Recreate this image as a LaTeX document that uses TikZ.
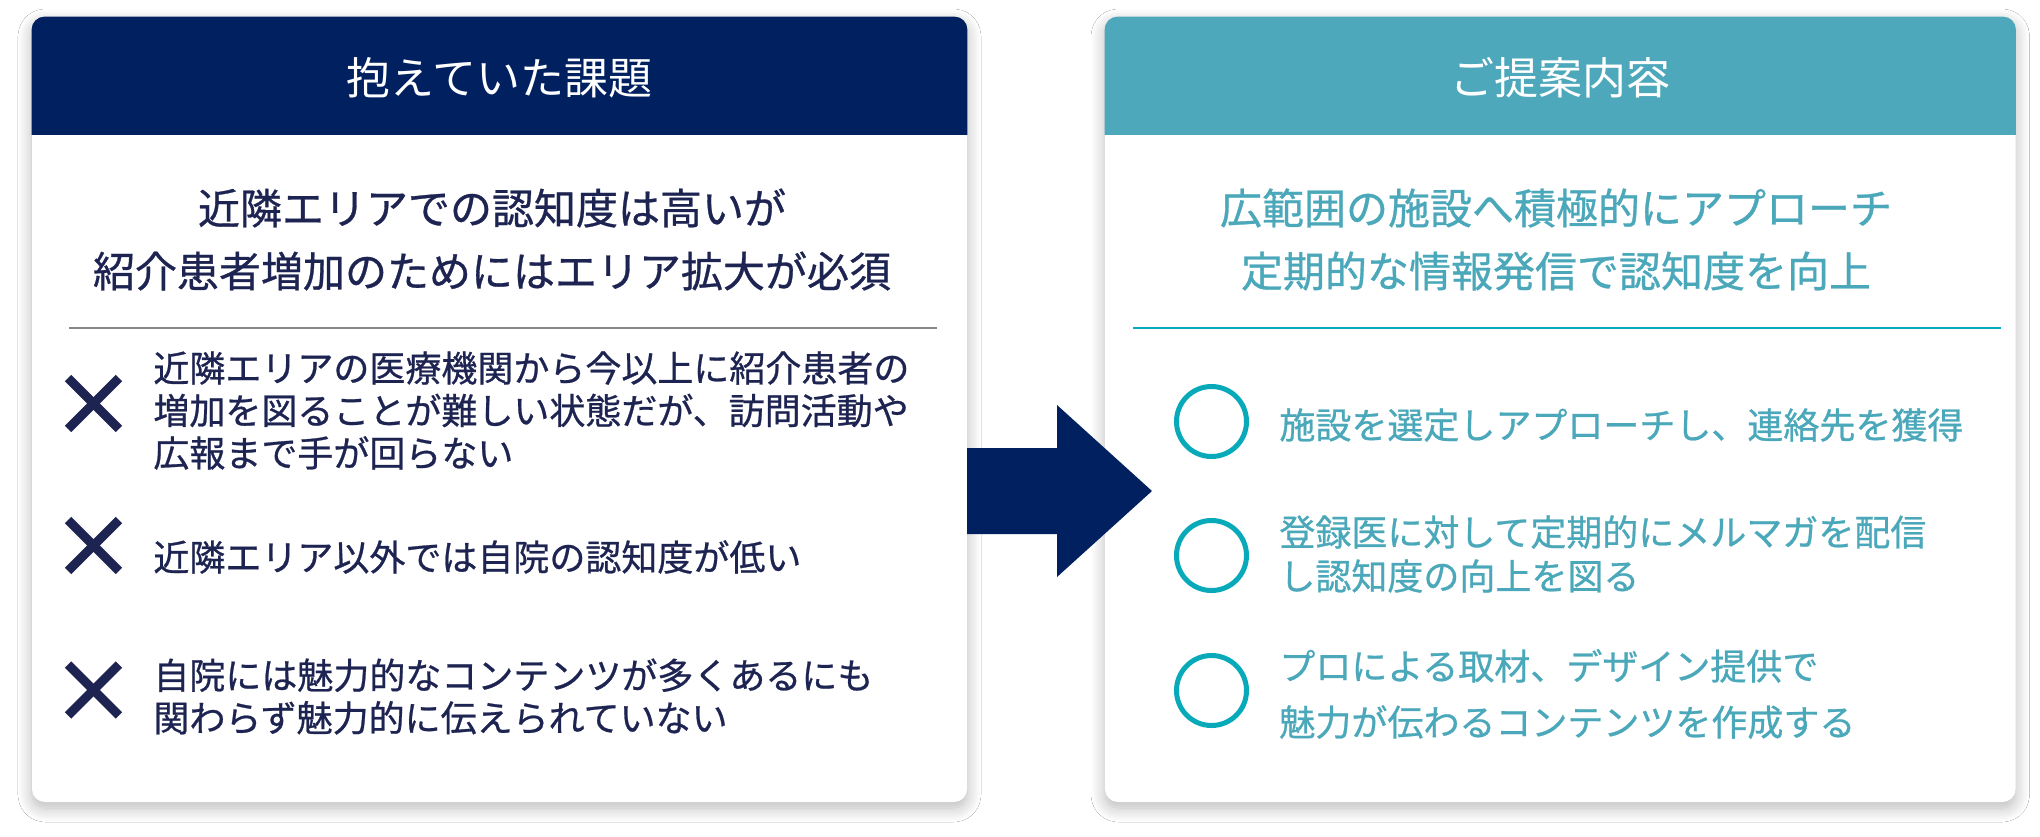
\documentclass[tikz,border=0pt]{standalone}
\usepackage{fontspec}
\newfontfamily\jp{Noto Sans CJK JP}
\newfontfamily\jpm[FakeBold=0.7]{Noto Sans CJK JP}
\usetikzlibrary{shadows.blur}
\definecolor{navyc}{RGB}{0,32,96}
\definecolor{tealhead}{RGB}{77,168,187}
\definecolor{tealtext}{RGB}{74,168,186}
\definecolor{tealbright}{RGB}{8,170,186}
\definecolor{darktext}{RGB}{30,36,82}
\definecolor{sepgray}{RGB}{136,136,136}
\begin{document}
\begin{tikzpicture}[x=0.5pt,y=-0.5pt,
  card/.style={rectangle, fill=white, rounded corners=6.5pt, inner sep=0pt,
    minimum height=392.5pt,
    blur shadow={shadow xshift=0pt, shadow yshift=-3pt, shadow blur radius=7pt, shadow opacity=28, shadow blur steps=12}},
  htitle/.style={font=\jp\fontsize{22pt}{26pt}\selectfont, text=white, inner sep=0pt},
  headline/.style={font=\jpm\fontsize{21pt}{31.5pt}\selectfont, align=center, inner sep=0pt},
  ltext/.style={font=\jpm\fontsize{18pt}{21.25pt}\selectfont, text=darktext, align=left, anchor=west, inner sep=0pt},
  rtext/.style={font=\jpm\fontsize{18pt}{22pt}\selectfont, text=tealtext, align=left, anchor=west, inner sep=0pt},
  xmark/.style={rectangle, minimum size=25pt, inner sep=0pt},
  xline/.style={draw=darktext, line width=4.5pt, line cap=butt},
  ring/.style={circle, draw=tealbright, line width=2.5pt, minimum size=35pt, inner sep=0pt},
]
\fill[white] (0,0) rectangle (2040,836);
\useasboundingbox (0,0) rectangle (2040,836);

% cards
\node[card, minimum width=467.5pt] (lcard) at (499.5,409.5) {};
\node[card, minimum width=455.25pt] (rcard) at (1560.25,409.5) {};

% headers
\coordinate (lhb) at (32,134);
\coordinate (rhb) at (1105,134);
\begin{scope}
  \clip (lcard.north west) rectangle (lhb -| lcard.east);
  \fill[navyc, rounded corners=6.5pt] (lcard.north west) rectangle (lcard.south east);
\end{scope}
\begin{scope}
  \clip (rcard.north west) rectangle (rhb -| rcard.east);
  \fill[tealhead, rounded corners=6.5pt] (rcard.north west) rectangle (rcard.south east);
\end{scope}

% arrow
\coordinate (arrL) at (967,491);
\fill[navyc] (arrL) ++(0,-43) -- ++(90,0) -- ++(0,-43) -- (1152,491) -- (1057,577) -- ++(0,-43) -- ++(-90,0) -- cycle;

% titles
\node[htitle] (ltitle) at (499.5,78) {抱えていた課題};
\node[htitle] (rtitle) at (1560,78) {ご提案内容};

% headlines
\node[headline, text=darktext] (lhl) at (492,239.5) {近隣エリアでの認知度は高いが\\紹介患者増加のためにはエリア拡大が必須};
\node[headline, text=tealtext] (rhl) at (1556,239.5) {広範囲の施設へ積極的にアプローチ\\定期的な情報発信で認知度を向上};

% separators
\coordinate (lsa) at (69,328);
\coordinate (lsb) at (937,328);
\coordinate (rsa) at (1133,328);
\coordinate (rsb) at (2001,328);
\draw[sepgray, line width=1pt] (lsa) -- (lsb);
\draw[tealbright, line width=1pt] (rsa) -- (rsb);

% left items
\foreach \n/\y in {1/403.5,2/545.5,3/690}{
  \node[xmark] (x\n) at (93.5,\y) {};
  \draw[xline] (x\n.north west) -- (x\n.south east);
  \draw[xline] (x\n.north east) -- (x\n.south west);
}
\node[ltext] (lt1) at (153,410.5) {近隣エリアの医療機関から今以上に紹介患者の\\増加を図ることが難しい状態だが、訪問活動や\\広報まで手が回らない};
\node[ltext] (lt2) at (153,557) {近隣エリア以外では自院の認知度が低い};
\node[ltext] (lt3) at (153,696.5) {自院には魅力的なコンテンツが多くあるにも\\関わらず魅力的に伝えられていない};

% right items
\node[ring] (c1) at (1211.5,421.5) {};
\node[ring] (c2) at (1211.5,555.5) {};
\node[ring] (c3) at (1211.5,690.5) {};
\node[rtext] (rt1) at (1279,425) {施設を選定しアプローチし、連絡先を獲得};
\node[rtext] (rt2) at (1279,554) {登録医に対して定期的にメルマガを配信\\し認知度の向上を図る};
\node[rtext, font=\jpm\fontsize{18pt}{28pt}\selectfont] (rt3) at (1279,694) {プロによる取材、デザイン提供で\\魅力が伝わるコンテンツを作成する};
\end{tikzpicture}
\end{document}
